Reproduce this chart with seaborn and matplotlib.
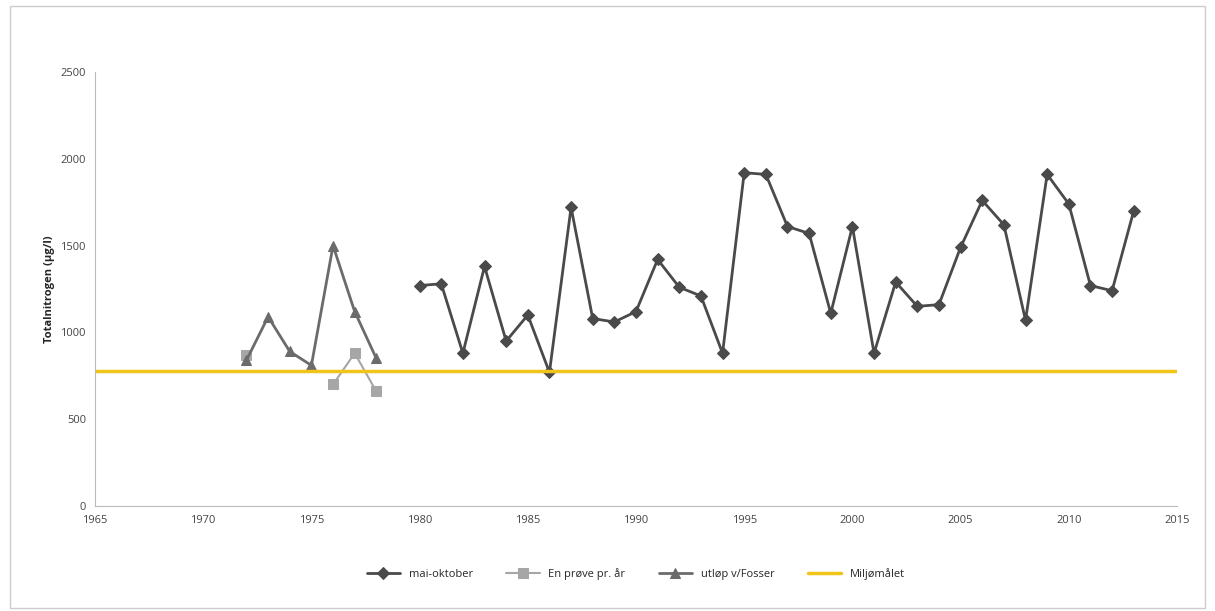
import numpy as np
import pandas as pd
import matplotlib.pyplot as plt
import seaborn as sns

# Data
years_main = list(range(1980, 2014))
vals_main = [1270, 1280, 880, 1380, 950, 1100, 770, 1720, 1080, 1060,
             1120, 1420, 1260, 1210, 880, 1920, 1910, 1610, 1570, 1110,
             1610, 880, 1290, 1150, 1160, 1490, 1760, 1620, 1070, 1910,
             1740, 1270, 1240, 1700]
years_sample = [1972, 1973, 1974, 1975, 1976, 1977, 1978]
vals_sample = [870, np.nan, np.nan, np.nan, 700, 880, 660]
years_fosser = [1972, 1973, 1974, 1975, 1976, 1977, 1978]
vals_fosser = [840, 1090, 890, 810, 1500, 1120, 850]
target_years = [1965, 2015]
target_vals = [775, 775]

sns.set_style("white")
plt.rcParams['font.family'] = ['Open Sans', 'DejaVu Sans']

fig = plt.figure(figsize=(12.15, 6.11), dpi=100)
ax = fig.add_axes([95 / 1215, 1 - 506 / 611, (1177 - 95) / 1215, (506 - 72) / 611])

dark = '#4a4a4a'
light = '#a6a6a6'
sns.lineplot(x=years_main, y=vals_main, ax=ax, color=dark, marker='D', markersize=6,
             linewidth=2, markeredgecolor=dark, label='mai-oktober')

# split the sample series into runs so the gap is not bridged
sample = pd.DataFrame({'year': years_sample, 'val': vals_sample})
sample['run'] = sample['val'].isna().cumsum()
sample = sample.dropna()
sns.lineplot(data=sample, x='year', y='val', units='run', estimator=None, ax=ax,
             color=light, marker='s', markersize=7, linewidth=1.5,
             markeredgecolor=light, label='En prøve pr. år')

sns.lineplot(x=years_fosser, y=vals_fosser, ax=ax, color='#6b6b6b', marker='^', markersize=7,
             linewidth=2, markeredgecolor='#6b6b6b', label='utløp v/Fosser')
sns.lineplot(x=target_years, y=target_vals, ax=ax, color='#f0c419', linewidth=2.5,
             label='Miljømålet')

ax.set_xlim(1965, 2015)
ax.set_ylim(0, 2500)
ax.set_xticks(range(1965, 2016, 5))
ax.set_yticks(range(0, 2501, 500))
ax.tick_params(labelsize=8, colors='#444444', length=3)
ax.set_ylabel('Totalnitrogen (µg/l)', fontsize=8, fontweight='bold')
ax.set_xlabel('')
for s in ['top', 'right']:
    ax.spines[s].set_visible(False)
for s in ['left', 'bottom']:
    ax.spines[s].set_color('#bbbbbb')

handles, labels = ax.get_legend_handles_labels()
uniq = dict(zip(labels, handles))
ax.legend(list(uniq.values()), list(uniq.keys()), loc='upper center',
          bbox_to_anchor=(0.5, -0.12), ncol=4, frameon=False,
          fontsize=8, handlelength=3, columnspacing=3)

fig.patches.append(plt.Rectangle((0.008, 0.005), 0.984, 0.985, transform=fig.transFigure,
                                 fill=False, edgecolor='#cccccc', linewidth=1))
fig.savefig('out.png', dpi=100)
